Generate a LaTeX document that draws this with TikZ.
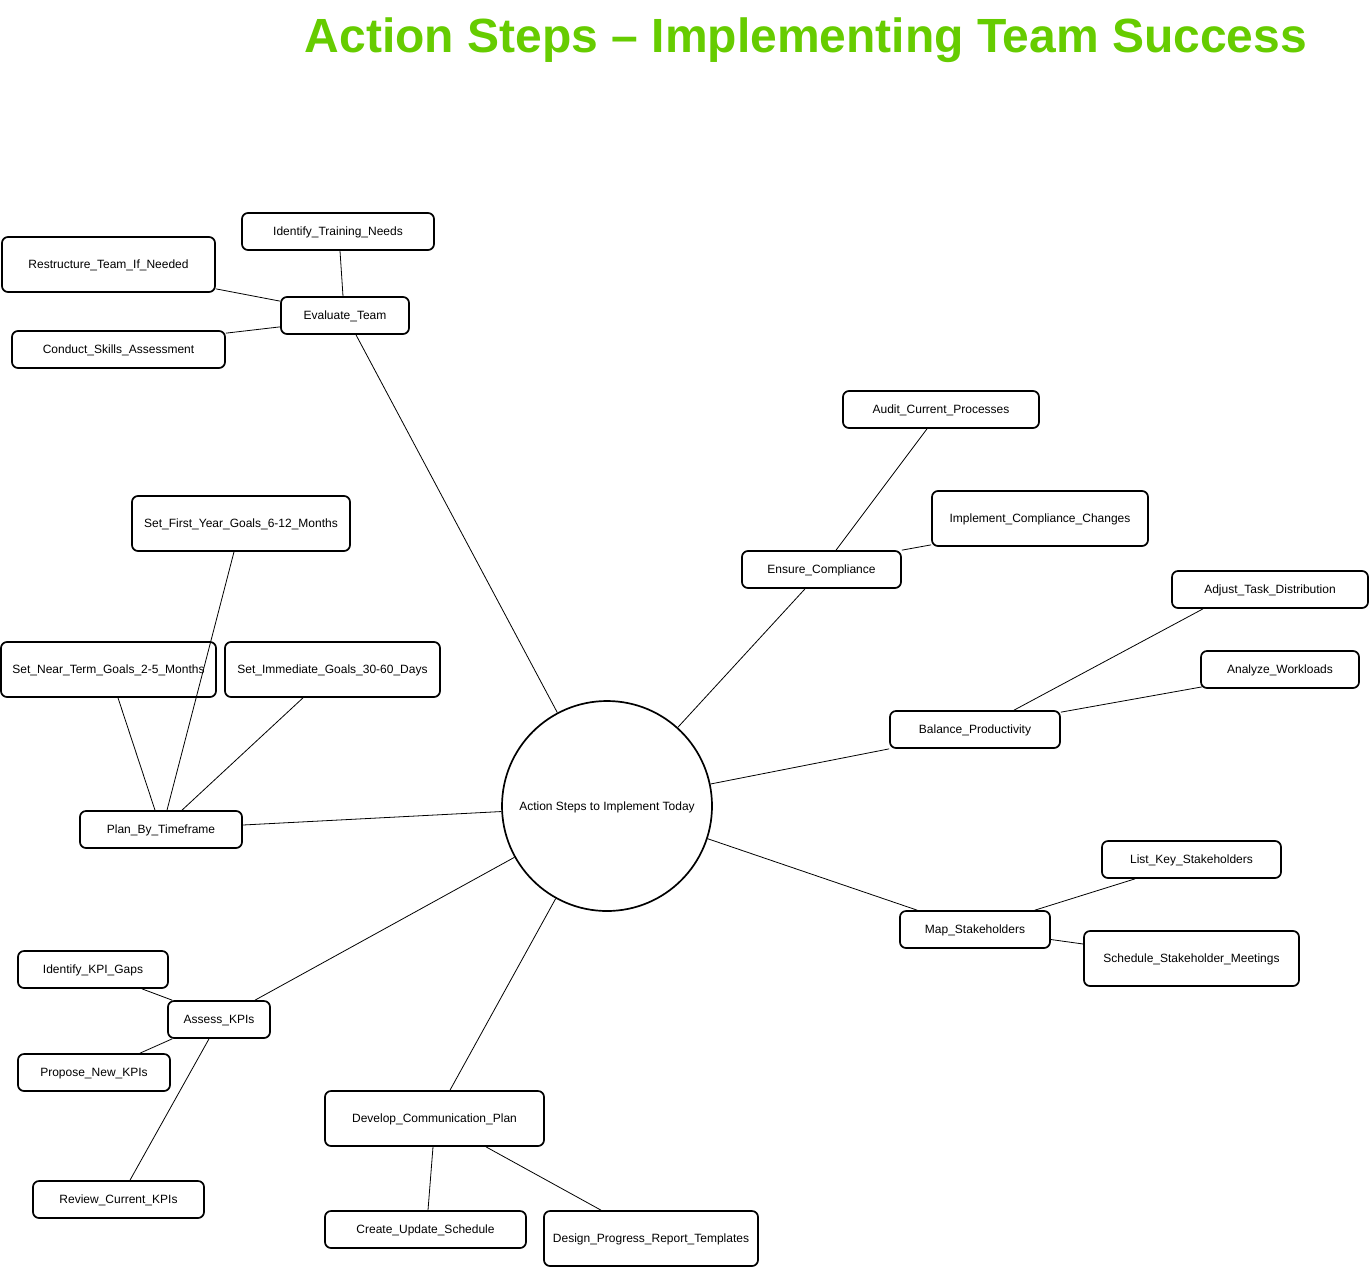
\documentclass[tikz,border=0pt]{standalone}
\usepackage{fontspec}
\setmainfont{Liberation Sans}
\usetikzlibrary{positioning, calc}
\definecolor{titlegreen}{RGB}{102,204,0}
\tikzset{
  every node/.style={font=\fontsize{12}{14}\selectfont},
  stepbox/.style={
    draw=black, rounded corners=6pt, line width=1.7pt, fill=white,
    minimum height=37pt, inner sep=0pt, align=center, text=black,
    text height=10pt, text depth=1.4pt
  },
  tallbox/.style={stepbox, minimum height=55pt},
  hubnode/.style={
    draw=black, circle, line width=1.7pt, fill=white,
    minimum size=210pt, inner sep=0pt, align=center,
    text height=10pt, text depth=1.4pt
  },
  link/.style={draw=black, line width=0.8pt},
  titletext/.style={font=\fontsize{48}{56}\selectfont\bfseries, text=titlegreen},
}
\begin{document}
\begin{tikzpicture}[x=1pt, y=-1pt]
  \useasboundingbox (0,0) rectangle (1370,1267);

  % Title
  \node[titletext] (title) at (806,40) {Action Steps -- Implementing Team Success};

  % Hub
  \node[hubnode] (hub) at (607,806) {Action Steps to Implement Today};

  % Evaluate team branch
  \node[stepbox, minimum width=128pt] (evalteam) at (345,315.5) {Evaluate\_Team};
  \node[stepbox, minimum width=192pt] (trainneeds) at (338,231.5) {Identify\_Training\_Needs};
  \node[tallbox, minimum width=213pt] (restructure) at (108.5,264.5) {Restructure\_Team\_If\_Needed};
  \node[stepbox, minimum width=213pt] (skillsassess) at (118.5,349.5) {Conduct\_Skills\_Assessment};

  % Compliance branch
  \node[stepbox, minimum width=159pt] (compliance) at (821.5,569.5) {Ensure\_Compliance};
  \node[stepbox, minimum width=196pt] (auditproc) at (941,409.5) {Audit\_Current\_Processes};
  \node[tallbox, minimum width=216pt] (compchanges) at (1040,518.5) {Implement\_Compliance\_Changes};

  % Productivity branch
  \node[stepbox, minimum width=170pt] (productivity) at (975,729.5) {Balance\_Productivity};
  \node[stepbox, minimum width=196pt] (taskdist) at (1270,589.5) {Adjust\_Task\_Distribution};
  \node[stepbox, minimum width=158pt] (workloads) at (1280,669.5) {Analyze\_Workloads};

  % Stakeholder branch
  \node[stepbox, minimum width=150pt] (mapstake) at (975,929.5) {Map\_Stakeholders};
  \node[stepbox, minimum width=179pt] (keystake) at (1191.5,859.5) {List\_Key\_Stakeholders};
  \node[tallbox, minimum width=215pt] (stakemeet) at (1191.5,958.5) {Schedule\_Stakeholder\_Meetings};

  % Communication branch
  \node[tallbox, minimum width=219pt] (commplan) at (434.5,1118.5) {Develop\_Communication\_Plan};
  \node[stepbox, minimum width=201pt] (updatesched) at (425.5,1229.5) {Create\_Update\_Schedule};
  \node[tallbox, minimum width=214pt] (reporttpl) at (651,1238.5) {Design\_Progress\_Report\_Templates};

  % KPI branch
  \node[stepbox, minimum width=102pt] (assesskpi) at (219,1019.5) {Assess\_KPIs};
  \node[stepbox, minimum width=150pt] (kpigaps) at (93,969.5) {Identify\_KPI\_Gaps};
  \node[stepbox, minimum width=152pt] (newkpi) at (94,1072.5) {Propose\_New\_KPIs};
  \node[stepbox, minimum width=171pt] (reviewkpi) at (118.5,1199.5) {Review\_Current\_KPIs};

  % Timeframe branch
  \node[stepbox, minimum width=162pt] (timeframe) at (161,829.5) {Plan\_By\_Timeframe};
  \node[tallbox, minimum width=218pt] (firstyear) at (241,523.5) {Set\_First\_Year\_Goals\_6-12\_Months};
  \node[tallbox, minimum width=215pt] (nearterm) at (108.5,669.5) {Set\_Near\_Term\_Goals\_2-5\_Months};
  \node[tallbox, minimum width=215pt] (immediate) at (332.5,669.5) {Set\_Immediate\_Goals\_30-60\_Days};

  % Links from the hub
  \draw[link] (hub.118) -- ([xshift=11pt]evalteam.south);
  \draw[link] (hub.48) -- ([xshift=-16.5pt]compliance.south);
  \draw[link] (hub.12) -- (productivity.south west);
  \draw[link] (hub.-18.6) -- ([xshift=18pt]mapstake.north west);
  \draw[link] (hub.241.7) -- ([xshift=15.5pt]commplan.north);
  \draw[link] (hub.209) -- ([xshift=36pt]assesskpi.north);
  \draw[link] (hub.183) -- ([yshift=4.5pt]timeframe.east);

  % Links inside the branches
  \draw[link] ([xshift=-2pt]evalteam.north) -- ([xshift=2pt]trainneeds.south);
  \draw[link] ([yshift=-5pt]evalteam.north west) -- ([yshift=4pt]restructure.south east);
  \draw[link] ([yshift=8pt]evalteam.south west) -- ([yshift=-3pt]skillsassess.north east);

  \draw[link] ([xshift=14.5pt]compliance.north) -- ([xshift=-14pt]auditproc.south);
  \draw[link] (compliance.north east) -- ([yshift=2pt]compchanges.south west);

  \draw[link] ([xshift=39pt]productivity.north) -- ([xshift=-67pt]taskdist.south);
  \draw[link] ([yshift=-2pt]productivity.north east) -- ([xshift=2pt,yshift=2pt]workloads.south west);

  \draw[link] ([xshift=-16pt]mapstake.north east) -- ([xshift=-56.5pt]keystake.south);
  \draw[link] ([yshift=-10pt]mapstake.east) -- ([yshift=14.5pt]stakemeet.west);

  \draw[link] ([xshift=-1.5pt]commplan.south) -- ([xshift=2.5pt]updatesched.north);
  \draw[link] ([xshift=51.5pt]commplan.south) -- ([xshift=-50pt]reporttpl.north);

  \draw[link] ([xshift=5pt]assesskpi.north west) -- ([xshift=49pt]kpigaps.south);
  \draw[link] ([xshift=5pt]assesskpi.south west) -- ([xshift=46pt]newkpi.north);
  \draw[link] ([xshift=-10pt]assesskpi.south) -- ([xshift=11.5pt]reviewkpi.north);

  \draw[link] ([xshift=-6pt]timeframe.north) -- ([xshift=9.5pt]nearterm.south);
  \draw[link] ([xshift=6pt]timeframe.north) -- ([xshift=-7pt]firstyear.south);
  \draw[link] ([xshift=21pt]timeframe.north) -- ([xshift=-29.5pt]immediate.south);
\end{tikzpicture}
\end{document}
